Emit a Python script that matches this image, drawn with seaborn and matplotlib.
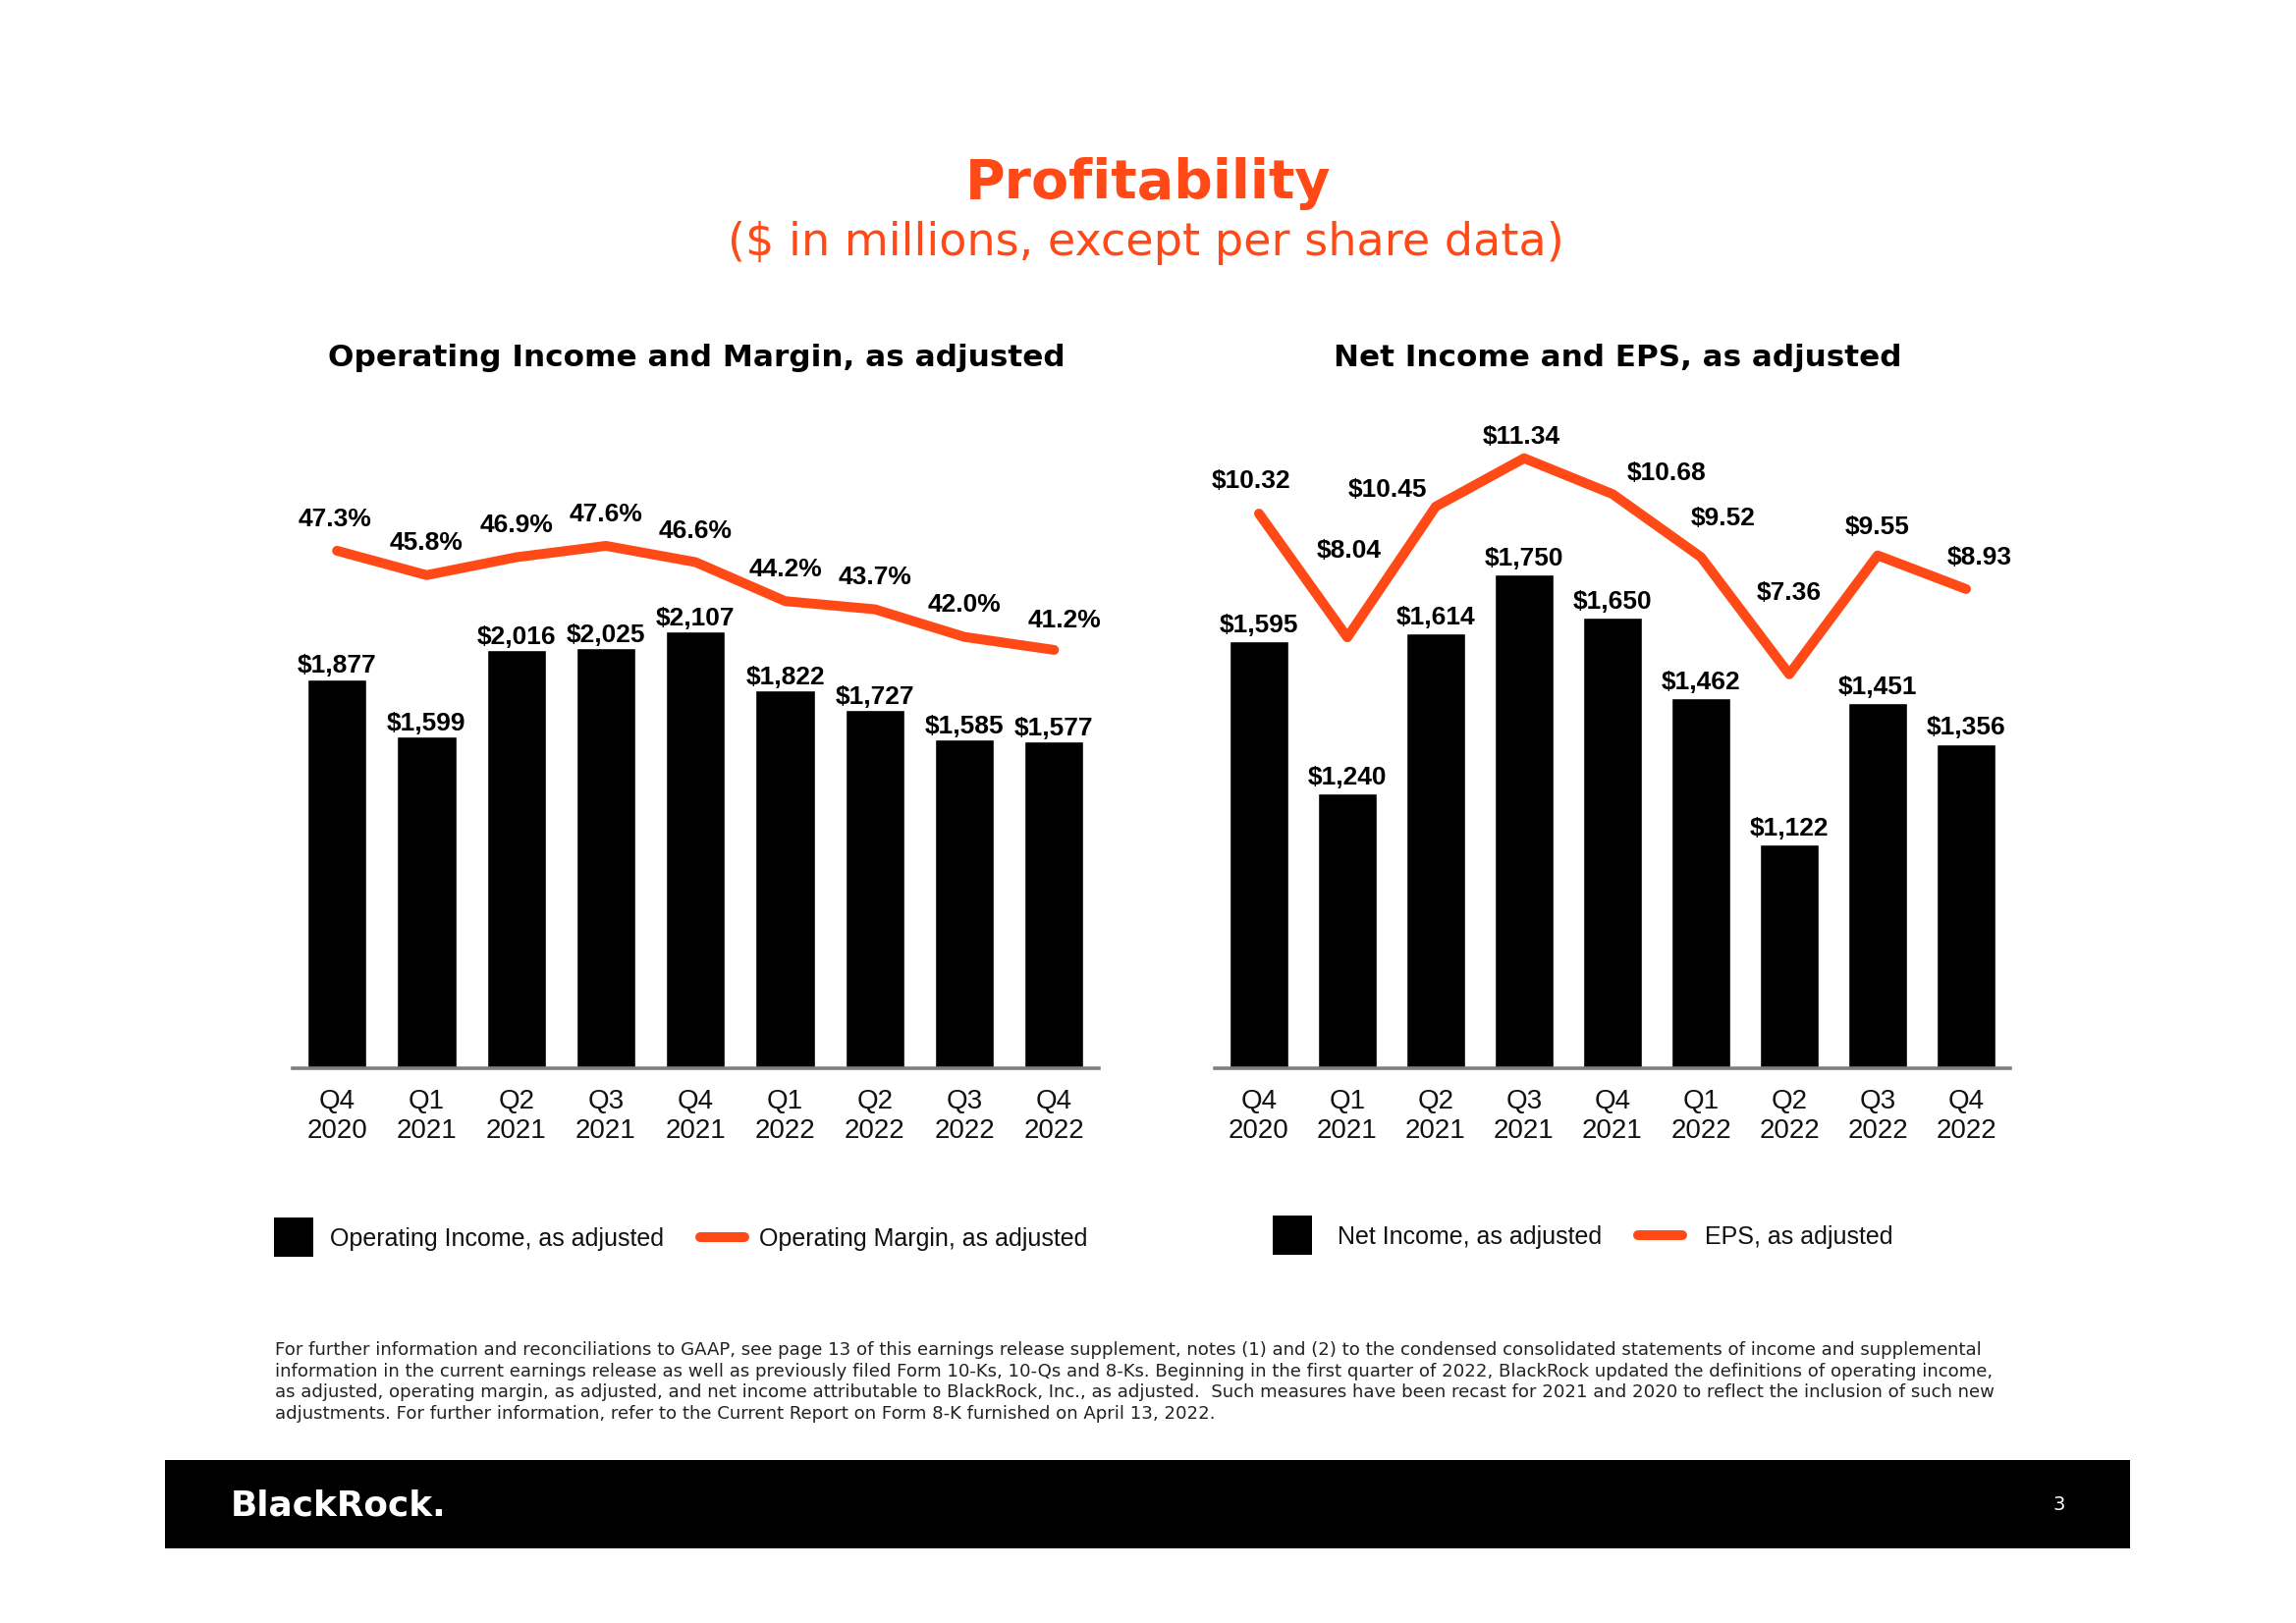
import matplotlib
matplotlib.use("Agg")
import matplotlib.pyplot as plt
import seaborn as sns
import numpy as np
import pandas as pd
from matplotlib.lines import Line2D
from matplotlib.patches import Rectangle

# ---------------- data ----------------
quarters = ["Q4\n2020", "Q1\n2021", "Q2\n2021", "Q3\n2021", "Q4\n2021",
            "Q1\n2022", "Q2\n2022", "Q3\n2022", "Q4\n2022"]
op_income = [1877, 1599, 2016, 2025, 2107, 1822, 1727, 1585, 1577]
op_margin = [47.3, 45.8, 46.9, 47.6, 46.6, 44.2, 43.7, 42.0, 41.2]
net_income = [1595, 1240, 1614, 1750, 1650, 1462, 1122, 1451, 1356]
eps = [10.32, 8.04, 10.45, 11.34, 10.68, 9.52, 7.36, 9.55, 8.93]

footnote_lines = [
    "For further information and reconciliations to GAAP, see page 13 of this earnings release supplement, notes (1) and (2) to the condensed consolidated statements of income and supplemental",
    "information in the current earnings release as well as previously filed Form 10-Ks, 10-Qs and 8-Ks. Beginning in the first quarter of 2022, BlackRock updated the definitions of operating income,",
    "as adjusted, operating margin, as adjusted, and net income attributable to BlackRock, Inc., as adjusted.  Such measures have been recast for 2021 and 2020 to reflect the inclusion of such new",
    "adjustments. For further information, refer to the Current Report on Form 8-K furnished on April 13, 2022.",
]

# ---------------- style / layout ----------------
ORANGE = "#FF4A17"
GRAY = "#7f7f7f"
W, H = 2338, 1653

sns.set_theme(style="white")
plt.rcParams["font.family"] = ["Liberation Sans", "DejaVu Sans"]

fig = plt.figure(figsize=(W / 100, H / 100), dpi=100)
fig.patch.set_facecolor("white")


def fx(px):
    return px / W


def fy(py):
    return 1 - py / H


AX_TOP, AX_BOT = 420, 1088
ax_l = fig.add_axes([fx(297.5), fy(AX_BOT), (1119 - 297.5) / W, (AX_BOT - AX_TOP) / H])
ax_r = fig.add_axes([fx(1237), fy(AX_BOT), (2047 - 1237) / W, (AX_BOT - AX_TOP) / H])

# label offsets (pixels) for the line labels
margin_offsets = [(-2, 32), (0, 33), (0, 33), (0, 32), (0, 32), (0, 32), (0, 33), (0, 33), (11, 30)]
eps_offsets = [(-8, 33), (2, 88), (-49, 17), (-3, 22), (55, 21), (23, 39), (0, 83), (0, 29), (14, 32)]

LBL = dict(fontsize=19, fontweight="bold", family="Liberation Sans", color="black")


def panel(ax, bars, line, bar_fmt, line_fmt, ylim, y2lim, bar_pad, offsets):
    sns.barplot(x=quarters, y=bars, color="black", saturation=1, width=0.66, ax=ax)
    ax.set_xlim(-0.5, 8.5)
    ax.set_ylim(*ylim)
    ax.bar_label(ax.containers[0], labels=[bar_fmt(v) for v in bars],
                 padding=bar_pad, **LBL)
    ax.set_xticks(range(len(quarters)), labels=quarters, linespacing=1.2)
    ax.tick_params(axis="x", length=0, pad=15, labelsize=20, labelcolor="#111111")
    ax.set_yticks([])
    ax.set_xlabel("")
    ax.set_ylabel("")
    for s in ["top", "right", "left"]:
        ax.spines[s].set_visible(False)
    ax.spines["bottom"].set_color(GRAY)
    ax.spines["bottom"].set_linewidth(2.6)
    ax.set_facecolor("none")

    ax2 = ax.twinx()
    sns.lineplot(x=quarters, y=line, ax=ax2, color=ORANGE, linewidth=7.2,
                 sort=False, legend=False)
    for ln in ax2.lines:
        ln.set_solid_capstyle("round")
    ax2.set_ylim(*y2lim)
    ax2.set_xlim(-0.5, 8.5)
    ax2.set_yticks([])
    ax2.set_ylabel("")
    for s in ax2.spines.values():
        s.set_visible(False)
    for i, (v, (dx, dy)) in enumerate(zip(line, offsets)):
        ax2.annotate(line_fmt(v), xy=(i, v), xytext=(dx, dy), textcoords="offset pixels",
                     ha="center", va="center", **LBL)
    return ax2


panel(ax_l, op_income, op_margin, lambda v: f"${v:,}", lambda v: f"{v:.1f}%",
      (0, 3164), (15.47, 55.81), 1, margin_offsets)
panel(ax_r, net_income, eps, lambda v: f"${v:,}", lambda v: f"${v:.2f}",
      (601, 2127.5), (0.10, 12.185), 3, eps_offsets)

# ---------------- legends ----------------
sq = Line2D([0], [0], marker="s", markersize=28.8, markeredgewidth=0,
            color="black", linestyle="none")
ln = Line2D([0], [0], color=ORANGE, linewidth=7.2, solid_capstyle="round")
leg_prop = {"family": "Liberation Sans", "size": 18}
fig.legend([sq, ln], ["Operating Income, as adjusted", "Operating Margin, as adjusted"],
           loc="center left", bbox_to_anchor=(fx(276.5), fy(1262)),
           bbox_transform=fig.transFigure, ncol=2, frameon=False, borderpad=0,
           borderaxespad=0, handlelength=1.8, handletextpad=0.6, columnspacing=1.45,
           prop=leg_prop, labelcolor="#111111")
fig.legend([sq, ln], ["Net Income, as adjusted", "EPS, as adjusted"],
           loc="center left", bbox_to_anchor=(fx(1293.5), fy(1260)),
           bbox_transform=fig.transFigure, ncol=2, frameon=False, borderpad=0,
           borderaxespad=0, handlelength=1.8, handletextpad=0.95, columnspacing=1.45,
           prop=leg_prop, labelcolor="#111111")

# ---------------- titles ----------------
renderer = fig.canvas.get_renderer()


def fit(t, target_w):
    w = t.get_window_extent(renderer).width
    t.set_fontsize(t.get_fontsize() * target_w / w)


t = fig.text(fx(1169), fy(201.7), "Profitability", ha="center", va="baseline",
             fontsize=40, fontweight="bold", family="DejaVu Sans", color=ORANGE)
fit(t, 372)
t = fig.text(fx(1167), fy(248), "($ in millions, except per share data)", ha="center",
             va="center", fontsize=33, family="DejaVu Sans", color=ORANGE)
fit(t, 852)
t = fig.text(fx(709.6), fy(373.3), "Operating Income and Margin, as adjusted", ha="center",
             va="baseline", fontsize=22, fontweight="bold", family="DejaVu Sans", color="black")
fit(t, 749)
t = fig.text(fx(1647), fy(373.3), "Net Income and EPS, as adjusted", ha="center",
             va="baseline", fontsize=22, fontweight="bold", family="DejaVu Sans", color="black")
fit(t, 576)

# ---------------- footnote ----------------
foot_y = [1375, 1397, 1418, 1440]
fts = []
for yy, line_txt in zip(foot_y, footnote_lines):
    fts.append(fig.text(fx(280), fy(yy), line_txt, ha="left", va="center", fontsize=13,
                        family="DejaVu Sans", color="#222222"))
fit(fts[0], 1739)
for f in fts[1:]:
    f.set_fontsize(fts[0].get_fontsize())

# ---------------- footer bar ----------------
fig.add_artist(Rectangle((fx(168), fy(1577)), (2169 - 168) / W, (1577 - 1487) / H,
                         transform=fig.transFigure, facecolor="black", edgecolor="none",
                         zorder=0))
t = fig.text(fx(235), fy(1543.3), "BlackRock.", ha="left", va="baseline", fontsize=26,
             fontweight="bold", family="DejaVu Sans", color="white")
fit(t, 220)
fig.text(fx(2097), fy(1533), "3", ha="center", va="center", fontsize=14,
         family="DejaVu Sans", color="white")

fig.savefig("out.png", dpi=100, facecolor="white")
